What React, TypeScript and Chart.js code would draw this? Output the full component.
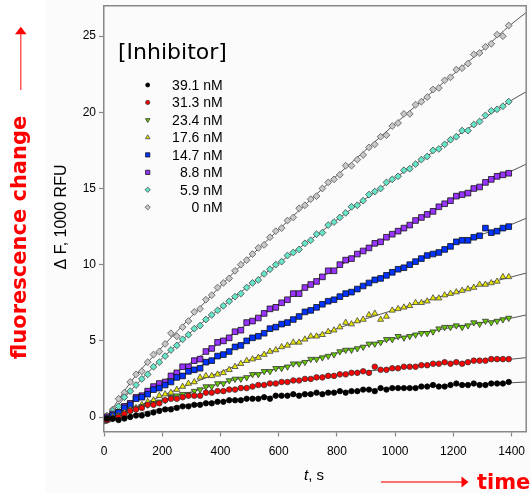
import React, { useEffect, useRef } from 'react';
import { Chart, registerables } from 'chart.js';

Chart.register(...registerables);

// ---------------- data ----------------
const TIMES = [10, 30, 50, 70, 90, 110, 130, 150, 170, 190,
  210, 230, 250, 270, 290, 310, 330, 350, 370, 390,
  410, 430, 450, 470, 490, 510, 530, 550, 570, 590,
  610, 630, 650, 670, 690, 710, 730, 750, 770, 790,
  810, 830, 850, 870, 890, 910, 930, 950, 970, 990,
  1010, 1030, 1050, 1070, 1090, 1110, 1130, 1150, 1170, 1190,
  1210, 1230, 1250, 1270, 1290, 1310, 1330, 1350, 1370, 1390];

const FIT_TIMES = [0, 100, 200, 300, 400, 500, 600, 700, 800, 900, 1000, 1100, 1200, 1300, 1400, 1450];

const LABELS = ['39.1 nM', '31.3 nM', '23.4 nM', '17.6 nM', '14.7 nM', '8.8 nM', '5.9 nM', '0 nM'];
const X_TICKS = [0, 200, 400, 600, 800, 1000, 1200, 1400];
const Y_TICKS = [0, 5, 10, 15, 20, 25];

const DATA_39_1 = [-0.1, -0.1, -0.2, -0.1, 0.0, 0.1, 0.1, 0.2, 0.3, 0.4,
  0.5, 0.5, 0.6, 0.7, 0.7, 0.8, 0.8, 0.9, 0.9, 1.0,
  1.0, 1.1, 1.1, 1.1, 1.2, 1.2, 1.2, 1.3, 1.2, 1.4,
  1.4, 1.4, 1.5, 1.4, 1.5, 1.5, 1.6, 1.5, 1.6, 1.6,
  1.7, 1.6, 1.7, 1.7, 1.8, 1.8, 1.7, 1.9, 1.8, 1.9,
  1.9, 1.9, 1.9, 1.9, 2.0, 2.0, 2.1, 2.0, 2.0, 2.1,
  2.2, 2.1, 2.1, 2.2, 2.1, 2.1, 2.2, 2.2, 2.2, 2.3];
const FIT_39_1 = [-0.45, 0.15, 0.55, 0.85, 1.05, 1.25, 1.4, 1.55, 1.65, 1.8, 1.9, 2.0, 2.1, 2.2, 2.25, 2.3];

const DATA_31_3 = [-0.2, -0.1, 0.0, 0.2, 0.4, 0.5, 0.6, 0.8, 0.8, 0.9,
  1.1, 1.2, 1.2, 1.3, 1.4, 1.4, 1.4, 1.6, 1.6, 1.7,
  1.7, 1.8, 1.8, 1.9, 1.9, 2.0, 2.1, 2.1, 2.2, 2.2,
  2.3, 2.3, 2.4, 2.4, 2.5, 2.5, 2.6, 2.6, 2.7, 2.7,
  2.8, 2.8, 2.9, 2.9, 3.0, 2.9, 3.3, 3.1, 3.1, 3.2,
  3.2, 3.3, 3.3, 3.3, 3.4, 3.4, 3.5, 3.5, 3.6, 3.5,
  3.6, 3.5, 3.6, 3.7, 3.7, 3.7, 3.8, 3.8, 3.8, 3.8];
const FIT_31_3 = [-0.4, 0.45, 1.05, 1.4, 1.7, 1.97, 2.25, 2.5, 2.75, 3.0, 3.2, 3.4, 3.55, 3.7, 3.8, 3.9];

const DATA_23_4 = [-0.2, -0.1, 0.1, 0.2, 0.4, 0.6, 0.7, 0.8, 0.9, 1.0,
  1.1, 1.3, 1.4, 1.5, 1.5, 1.7, 1.8, 2.0, 2.0, 2.2,
  2.2, 2.4, 2.5, 2.5, 2.6, 2.8, 2.8, 3.0, 3.0, 3.2,
  3.2, 3.3, 3.5, 3.5, 3.6, 3.8, 3.8, 3.9, 4.0, 4.1,
  4.3, 4.4, 4.4, 4.5, 4.6, 4.8, 4.8, 4.9, 5.1, 5.1,
  5.3, 5.2, 5.3, 5.4, 5.5, 5.5, 5.6, 5.8, 5.9, 5.9,
  6.0, 5.9, 6.0, 6.2, 6.1, 6.3, 6.2, 6.3, 6.4, 6.5];
const FIT_23_4 = [-0.4, 0.5, 1.1, 1.65, 2.2, 2.7, 3.2, 3.7, 4.2, 4.7, 5.15, 5.55, 5.9, 6.2, 6.5, 6.7];

const DATA_17_6 = [-0.1, 0.0, 0.1, 0.3, 0.5, 0.6, 0.8, 1.0, 1.1, 1.4,
  1.5, 1.6, 1.8, 2.0, 2.2, 2.3, 2.6, 2.7, 2.7, 2.8,
  2.9, 3.1, 3.3, 3.5, 3.7, 3.8, 3.9, 4.1, 4.3, 4.4,
  4.6, 4.7, 4.9, 4.9, 5.1, 5.3, 5.3, 5.4, 5.6, 5.7,
  5.9, 6.2, 6.1, 6.3, 6.4, 6.7, 6.8, 6.4, 6.6, 7.0,
  7.1, 7.2, 7.3, 7.5, 7.5, 7.6, 7.8, 7.8, 8.0, 8.1,
  8.2, 8.3, 8.4, 8.5, 8.7, 8.7, 8.8, 8.9, 9.2, 9.2];
const FIT_17_6 = [-0.4, 0.55, 1.4, 2.2, 2.95, 3.75, 4.5, 5.15, 5.8, 6.45, 7.05, 7.6, 8.15, 8.7, 9.2, 9.45];

const DATA_14_7 = [-0.1, 0.1, 0.3, 0.6, 0.8, 1.2, 1.3, 1.5, 1.8, 1.9,
  2.1, 2.3, 2.6, 2.7, 3.0, 3.1, 3.2, 3.6, 3.7, 4.0,
  4.1, 4.3, 4.6, 4.7, 5.0, 5.2, 5.3, 5.5, 5.8, 5.9,
  6.1, 6.2, 6.4, 6.6, 6.9, 7.0, 7.2, 7.4, 7.6, 7.7,
  7.9, 8.1, 8.2, 8.4, 8.6, 8.8, 9.0, 9.1, 9.3, 9.5,
  9.7, 9.8, 10.0, 10.2, 10.4, 10.6, 10.7, 10.8, 11.0, 11.2,
  11.5, 11.6, 11.6, 11.8, 11.9, 12.4, 12.1, 12.2, 12.4, 12.5];
const FIT_14_7 = [-0.4, 1.0, 2.0, 3.05, 4.05, 5.05, 6.0, 6.9, 7.8, 8.7, 9.6, 10.45, 11.3, 12.0, 12.65, 13.05];

const DATA_8_8 = [0.0, 0.2, 0.3, 0.7, 0.9, 1.3, 1.4, 1.7, 2.0, 2.2,
  2.3, 2.7, 2.9, 3.3, 3.3, 3.7, 3.8, 4.3, 4.5, 4.9,
  5.0, 5.2, 5.6, 5.7, 6.2, 6.3, 6.5, 6.8, 7.1, 7.2,
  7.5, 7.7, 8.1, 8.1, 8.5, 8.7, 8.9, 9.2, 9.6, 9.6,
  10.0, 10.3, 10.4, 10.7, 10.9, 11.1, 11.4, 11.5, 11.8, 12.0,
  12.2, 12.4, 12.6, 12.9, 13.1, 13.3, 13.5, 13.8, 14.0, 14.2,
  14.5, 14.6, 14.7, 15.0, 15.1, 15.4, 15.6, 15.8, 15.9, 16.0];
const FIT_8_8 = [-0.4, 1.1, 2.3, 3.6, 4.9, 6.2, 7.4, 8.6, 9.8, 11.0, 12.1, 13.2, 14.3, 15.25, 16.15, 16.6];

const DATA_5_9 = [0.0, 0.4, 0.7, 1.3, 1.7, 2.1, 2.5, 2.8, 3.3, 3.6,
  4.0, 4.4, 4.7, 5.1, 5.4, 5.8, 6.0, 6.4, 6.7, 7.0,
  7.3, 7.6, 7.9, 8.1, 8.5, 8.8, 9.0, 9.4, 9.7, 10.0,
  10.2, 10.6, 10.8, 11.0, 11.4, 11.6, 12.0, 12.1, 12.6, 12.8,
  13.1, 13.4, 13.8, 13.9, 14.2, 14.6, 14.8, 15.0, 15.4, 15.6,
  15.8, 16.2, 16.3, 16.6, 16.9, 17.1, 17.5, 17.6, 17.9, 18.2,
  18.4, 18.8, 18.8, 19.2, 19.4, 19.8, 20.1, 20.2, 20.4, 20.7];
const FIT_5_9 = [-0.3, 1.9, 3.85, 5.6, 7.15, 8.65, 10.1, 11.5, 12.95, 14.35, 15.7, 17.0, 18.3, 19.55, 20.8, 21.35];

const DATA_0 = [0.1, 0.5, 1.2, 1.6, 2.3, 2.8, 3.0, 3.6, 4.1, 4.3,
  4.8, 5.5, 5.3, 5.9, 6.3, 6.9, 7.1, 7.7, 8.0, 8.5,
  8.8, 9.1, 9.6, 10.0, 10.3, 10.7, 11.1, 11.3, 11.8, 12.2,
  12.4, 12.9, 13.1, 13.7, 13.9, 14.3, 14.5, 15.0, 15.4, 15.6,
  15.9, 16.5, 16.5, 16.9, 17.2, 17.7, 17.9, 18.4, 18.5, 19.1,
  19.3, 19.9, 19.9, 20.5, 20.7, 21.0, 21.5, 21.6, 22.1, 22.3,
  22.8, 22.9, 23.2, 23.8, 23.9, 24.3, 24.5, 25.1, 25.0, 25.7];
const FIT_0 = [-0.3, 2.5, 4.6, 6.6, 8.6, 10.5, 12.3, 14.1, 15.85, 17.55, 19.25, 20.9, 22.5, 24.1, 25.8, 26.55];

// ---------------- styles ----------------
type Style = { data: number[]; fit: number[]; shape: string; rot: number; fill: string; edge: string; r: number; lr: number };
const SERIES: Style[] = [
  { data: DATA_39_1, fit: FIT_39_1, shape: 'circle', rot: 0, fill: '#000000', edge: '#000000', r: 2.7, lr: 2.0 },
  { data: DATA_31_3, fit: FIT_31_3, shape: 'circle', rot: 0, fill: '#ff0000', edge: '#333333', r: 2.8, lr: 2.1 },
  { data: DATA_23_4, fit: FIT_23_4, shape: 'triangle', rot: 180, fill: '#66cc00', edge: '#333333', r: 3.5, lr: 2.6 },
  { data: DATA_17_6, fit: FIT_17_6, shape: 'triangle', rot: 0, fill: '#e6e600', edge: '#444444', r: 3.5, lr: 2.6 },
  { data: DATA_14_7, fit: FIT_14_7, shape: 'rect', rot: 0, fill: '#0033ff', edge: '#111111', r: 4.0, lr: 3.0 },
  { data: DATA_8_8, fit: FIT_8_8, shape: 'rect', rot: 0, fill: '#9933ff', edge: '#111111', r: 4.0, lr: 3.0 },
  { data: DATA_5_9, fit: FIT_5_9, shape: 'rectRot', rot: 0, fill: '#66e6c8', edge: '#444444', r: 3.4, lr: 2.6 },
  { data: DATA_0, fit: FIT_0, shape: 'rectRot', rot: 0, fill: '#c8c8c8', edge: '#555555', r: 3.4, lr: 2.6 },
];

function drawMarker(ctx: CanvasRenderingContext2D, s: Style, x: number, y: number, r: number) {
  ctx.save();
  ctx.fillStyle = s.fill;
  ctx.strokeStyle = s.edge;
  ctx.lineWidth = 0.8;
  ctx.beginPath();
  if (s.shape === 'circle') {
    ctx.arc(x, y, r, 0, Math.PI * 2);
  } else if (s.shape === 'rect') {
    const h = r * Math.SQRT1_2;
    ctx.rect(x - h, y - h, 2 * h, 2 * h);
  } else if (s.shape === 'rectRot') {
    ctx.moveTo(x, y - r); ctx.lineTo(x + r, y); ctx.lineTo(x, y + r); ctx.lineTo(x - r, y); ctx.closePath();
  } else if (s.shape === 'triangle') {
    const dir = s.rot === 180 ? -1 : 1;
    const w = r * 0.866;
    ctx.moveTo(x, y - dir * r);
    ctx.lineTo(x + w, y + dir * r * 0.5);
    ctx.lineTo(x - w, y + dir * r * 0.5);
    ctx.closePath();
  }
  ctx.fill();
  ctx.stroke();
  ctx.restore();
}

const decor = {
  id: 'decor',
  beforeDraw(chart: any) {
    const { ctx, width, height } = chart;
    ctx.save();
    ctx.fillStyle = '#ffffff';
    ctx.fillRect(0, 0, width, height);
    ctx.fillStyle = '#fbfbfb';
    ctx.fillRect(45, 0, width - 45, height);
    ctx.restore();
  },
  afterDraw(chart: any) {
    const { ctx, chartArea: a } = chart;
    ctx.save();
    // top & right frame
    ctx.strokeStyle = '#888888';
    ctx.lineWidth = 1.5;
    ctx.beginPath();
    ctx.moveTo(a.left, a.top);
    ctx.lineTo(a.right, a.top);
    ctx.lineTo(a.right, a.bottom);
    ctx.stroke();

    // legend
    ctx.fillStyle = '#000';
    ctx.font = '22px "DejaVu Sans", Verdana, sans-serif';
    ctx.textAlign = 'left';
    ctx.textBaseline = 'alphabetic';
    ctx.fillText('[Inhibitor]', 118, 58.5);
    ctx.font = '14px "Liberation Sans", Arial, sans-serif';
    ctx.textAlign = 'right';
    for (let i = 0; i < LABELS.length; i++) {
      const y = 85 + i * 17.47;
      drawMarker(ctx, SERIES[i], 147.7, y, SERIES[i].lr);
      ctx.fillStyle = '#000';
      ctx.fillText(LABELS[i], 222.7, y + 4.8);
    }

    // y axis title
    ctx.save();
    ctx.translate(66, 217);
    ctx.rotate(-Math.PI / 2);
    ctx.textAlign = 'center';
    ctx.font = '16px "Liberation Sans", Arial, sans-serif';
    ctx.fillStyle = '#000';
    ctx.fillText('\u0394 F, 1000 RFU', 0, 0);
    ctx.restore();

    // x axis title: italic t
    ctx.textAlign = 'left';
    ctx.fillStyle = '#000';
    ctx.font = 'italic 15px "Liberation Sans", Arial, sans-serif';
    ctx.fillText('t', 304, 480);
    const tw = ctx.measureText('t').width;
    ctx.font = '15px "Liberation Sans", Arial, sans-serif';
    ctx.fillText(', s', 304 + tw, 480);

    // red annotations
    const red = '#ff0000';
    ctx.fillStyle = red;
    ctx.strokeStyle = '#ff4040';
    ctx.lineWidth = 1.3;
    ctx.beginPath();
    ctx.moveTo(20.8, 90);
    ctx.lineTo(20.8, 33);
    ctx.stroke();
    ctx.beginPath();
    ctx.moveTo(15, 34.3);
    ctx.lineTo(26.6, 34.3);
    ctx.lineTo(20.8, 26.7);
    ctx.closePath();
    ctx.fill();
    ctx.beginPath();
    ctx.moveTo(381, 482);
    ctx.lineTo(462, 482);
    ctx.stroke();
    ctx.beginPath();
    ctx.moveTo(461.5, 476.5);
    ctx.lineTo(461.5, 487.5);
    ctx.lineTo(468.5, 482);
    ctx.closePath();
    ctx.fill();

    ctx.font = 'bold 21px "DejaVu Sans", Verdana, sans-serif';
    ctx.fillStyle = red;
    ctx.textAlign = 'left';
    ctx.fillText('time', 477, 489);

    ctx.save();
    ctx.translate(26, 237.5);
    ctx.rotate(-Math.PI / 2);
    ctx.textAlign = 'center';
    ctx.fillText('fluorescence change', 0, 0);
    ctx.restore();

    ctx.restore();
  },
};

export default function App() {
  const ref = useRef<HTMLCanvasElement>(null);

  useEffect(() => {
    if (!ref.current) return;
    const datasets: any[] = [];
    SERIES.forEach((s, i) => {
      datasets.push({
        type: 'line',
        label: LABELS[i] + ' fit',
        data: FIT_TIMES.map((t, k) => ({ x: t, y: s.fit[k] })),
        borderColor: '#555555',
        borderWidth: 1,
        pointRadius: 0,
        cubicInterpolationMode: 'monotone',
        fill: false,
        order: 20,
      });
    });
    SERIES.forEach((s, i) => {
      datasets.push({
        type: 'scatter',
        label: LABELS[i],
        data: TIMES.map((t, k) => ({ x: t, y: s.data[k] })),
        pointStyle: s.shape,
        rotation: s.rot,
        pointRadius: s.r,
        pointBackgroundColor: s.fill,
        pointBorderColor: s.edge,
        pointBorderWidth: 0.8,
        showLine: false,
        order: i,
      });
    });

    const chart = new Chart(ref.current, {
      type: 'scatter',
      data: { datasets },
      options: {
        animation: false,
        responsive: false,
        devicePixelRatio: 1,
        layout: { padding: { top: 5.7, right: 3.3, left: 0, bottom: 0 } },
        plugins: { legend: { display: false }, tooltip: { enabled: false } },
        scales: {
          x: {
            type: 'linear',
            min: 0,
            max: 1450,
            afterBuildTicks: (sc: any) => { sc.ticks = X_TICKS.map((v) => ({ value: v })); },
            afterFit: (sc: any) => {
              sc.height = 61.5;
              sc.paddingLeft = 0; sc.paddingRight = 0; sc.paddingTop = 0; sc.paddingBottom = 0;
            },
            ticks: {
              color: '#000',
              font: { family: '"Liberation Sans", Arial, sans-serif', size: 12 },
              padding: 8,
              maxRotation: 0,
              callback: (v: any) => String(v),
            },
            grid: { drawOnChartArea: false, color: '#888888', tickLength: 5, tickWidth: 1.2 },
            border: { color: '#888888', width: 1.5 },
          },
          y: {
            type: 'linear',
            min: -0.95,
            max: 27,
            afterBuildTicks: (sc: any) => { sc.ticks = Y_TICKS.map((v) => ({ value: v })); },
            afterFit: (sc: any) => {
              sc.width = 104;
              sc.paddingLeft = 0; sc.paddingRight = 0; sc.paddingTop = 0; sc.paddingBottom = 0;
            },
            ticks: {
              color: '#000',
              font: { family: '"Liberation Sans", Arial, sans-serif', size: 12 },
              padding: 3,
              callback: (v: any) => String(v),
            },
            grid: { drawOnChartArea: false, color: '#888888', tickLength: 5, tickWidth: 1.2 },
            border: { color: '#888888', width: 1.5 },
          },
        },
      },
      plugins: [decor],
    } as any);
    return () => chart.destroy();
  }, []);

  return (
    <div style={{ position: 'fixed', left: 0, top: 0, width: 531, height: 493 }}>
      <canvas ref={ref} width={531} height={493} style={{ width: 531, height: 493, display: 'block' }} />
    </div>
  );
}
